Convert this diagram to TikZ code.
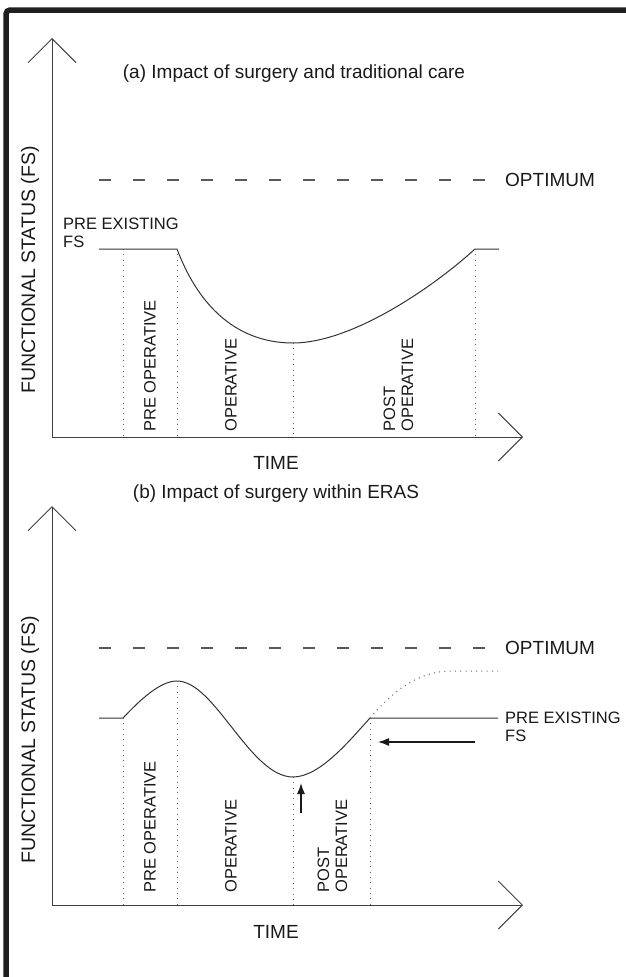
\documentclass[tikz,border=0pt]{standalone}
\usepackage{fontspec}
\setmainfont{Liberation Sans}
\usetikzlibrary{arrows.meta}

\tikzset{
  axis/.style={line width=1pt, draw=black!75,
    -{Straight Barb[length=24pt,width=48pt,line width=1pt]}},
  curve/.style={line width=1pt, draw=black!80},
  optline/.style={line width=1.3pt, draw=black!65, dash pattern=on 11.6pt off 22.4pt},
  guide/.style={line width=1pt, draw=black!60, dash pattern=on 1pt off 4.3pt},
  pointer/.style={line width=1.3pt, draw=black!90, -{Latex[length=11pt,width=8pt]}},
  lbl/.style={font=\fontsize{19}{19}\selectfont, text=black!90, inner sep=0pt},
  small/.style={font=\fontsize{16.5}{18}\selectfont, text=black!90, inner sep=0pt, align=left},
  phase/.style={small, rotate=90, anchor=west},
}

\begin{document}
\begin{tikzpicture}[x=1pt,y=-1pt]
    \useasboundingbox (0,0) rectangle (626,977);
    % frame
    \draw[line width=5.5pt, black!88, rounded corners=4pt] (6,985) -- (6,10) -- (635,10);

    % (a) traditional care
    \coordinate (oA) at (52,437);
    \coordinate (yA) at (52,38);
    \coordinate (xA) at (523,437);
    \draw[axis] (oA) -- (yA);
    \draw[axis] (oA) -- (xA);
    \node[lbl] (titleA) at (294,74) {(a) Impact of surgery and traditional care};
    \draw[optline] (99,180) -- (485,180);
    \node[lbl, anchor=west] (optA) at (505,180) {OPTIMUM};
    \node[small, anchor=north west] (preexA) at (63,218) {PRE EXISTING\\FS};
    \draw[curve] (99,249) -- (177,249) .. controls (200,310) and (240,343) .. (293,343)
      .. controls (350,343) and (430,290) .. (475,249) -- (499,249);
    \foreach \x/\y in {123/249, 177/249, 293/343, 475/249}
      \draw[guide] (\x,\y) -- (\x,437);
    \node[phase] (preopA) at (150,432) {PRE OPERATIVE};
    \node[phase] (opA) at (231,432) {OPERATIVE};
    \node[phase] (postA) at (398.5,432) {POST\\OPERATIVE};
    \node[lbl] (timeA) at (276,463) {TIME};
    \node[lbl, rotate=90, font=\fontsize{19.5}{19.5}\selectfont] (fsA) at (30,270) {FUNCTIONAL STATUS (FS)};

    % (b) within ERAS
    \coordinate (oB) at (52,905);
    \coordinate (yB) at (52,506);
    \coordinate (xB) at (523,905);
    \draw[axis] (oB) -- (yB);
    \draw[axis] (oB) -- (xB);
    \node[lbl] (titleB) at (276,494) {(b) Impact of surgery within ERAS};
    \draw[optline] (99,648) -- (485,648);
    \node[lbl, anchor=west] (optB) at (505,648) {OPTIMUM};
    \draw[curve] (99,718) -- (123,718) .. controls (140,700) and (160,681) .. (177,681)
      .. controls (215,681) and (250,777) .. (293,777)
      .. controls (320,777) and (350,740) .. (370,718) -- (498,718);
    \draw[guide] (370,718) .. controls (400,683) and (425,671) .. (452,671) -- (498,671);
    \node[small, anchor=north west] (preexB) at (505,712) {PRE EXISTING\\FS};
    \coordinate (backS) at (475,742);
    \coordinate (backE) at (378,742);
    \draw[pointer] (backS) -- (backE);
    \coordinate (lowS) at (301,813);
    \coordinate (lowE) at (301,783);
    \draw[pointer] (lowS) -- (lowE);
    \foreach \x/\y in {123/718, 177/681, 293/777, 370/718}
      \draw[guide] (\x,\y) -- (\x,905);
    \node[phase] (preopB) at (150,893) {PRE OPERATIVE};
    \node[phase] (opB) at (231,893) {OPERATIVE};
    \node[phase] (postB) at (332.5,893) {POST\\OPERATIVE};
    \node[lbl] (timeB) at (276,932) {TIME};
    \node[lbl, rotate=90, font=\fontsize{19.5}{19.5}\selectfont] (fsB) at (30,740) {FUNCTIONAL STATUS (FS)};
\end{tikzpicture}
\end{document}
